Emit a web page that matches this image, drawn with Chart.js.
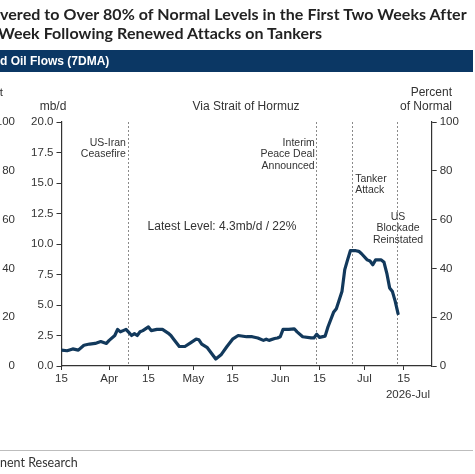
<!DOCTYPE html>
<html>
<head>
<meta charset="utf-8">
<script src="https://cdn.jsdelivr.net/npm/chart.js@4.4.1/dist/chart.umd.min.js"></script>
<style>
  html, body { margin: 0; padding: 0; background: #fff; }
  #page { position: relative; width: 475px; height: 474px; overflow: hidden; }
  #chart { position: absolute; left: 0; top: 0; }
  .title {
    position: absolute; left: 0; white-space: nowrap;
    font-family: Lato, 'Open Sans', sans-serif; font-weight: 700;
    font-size: 16px; color: #222; letter-spacing: 0.06px;
  }
  #band {
    position: absolute; left: 0; top: 50px; width: 473px; height: 22px;
    background: #0b3764; color: #fff; white-space: nowrap;
    font-family: 'Liberation Sans', Arial, sans-serif; font-weight: 700;
    font-size: 12px; line-height: 23px;
  }
  #rule { position: absolute; left: 0; top: 450px; width: 473px; height: 1px; background: #bdbdbd; }
  #source {
    position: absolute; left: 0; top: 455px; white-space: nowrap;
    font-family: Lato, 'Open Sans', sans-serif; font-size: 12.5px; color: #333;
  }
</style>
</head>
<body>
<div id="page">
  <canvas id="chart" width="475" height="474"></canvas>
  <div class="title" style="top:4px">vered to Over 80% of Normal Levels in the First Two Weeks After</div>
  <div class="title" style="top:23px;left:-2px">Week Following Renewed Attacks on Tankers</div>
  <div id="band">d Oil Flows (7DMA)</div>
  <div id="rule"></div>
  <div id="source">nent Research</div>
</div>
<script>
// ---------------------------------------------------------------------------
// DATA (oil flows via Strait of Hormuz, 7-day moving average, 2026)
// ---------------------------------------------------------------------------
const START_DATE = '03-15';
const END_DATE = '07-25';

const FLOW_DATES = [
  '03-15', '03-17', '03-19', '03-21', '03-23', '03-25', '03-27', '03-29', '03-31',
  '04-01', '04-03', '04-04', '04-05', '04-06', '04-07', '04-08', '04-09', '04-10',
  '04-11', '04-12', '04-13', '04-15', '04-16', '04-18', '04-20', '04-22', '04-23',
  '04-24', '04-26', '04-28', '04-30', '05-02', '05-03', '05-04', '05-06', '05-09',
  '05-11', '05-13', '05-15', '05-17', '05-20', '05-22', '05-24', '05-26', '05-27',
  '05-28', '05-30', '05-31', '06-01', '06-02', '06-04', '06-06', '06-07', '06-09',
  '06-12', '06-13', '06-14', '06-15', '06-17', '06-18', '06-20', '06-21', '06-23',
  '06-24', '06-25', '06-26', '06-28', '06-29', '06-30', '07-02', '07-03', '07-04',
  '07-05', '07-07', '07-08', '07-09', '07-10', '07-11', '07-12', '07-13'
];
const FLOWS_MBD = [
  1.3, 1.25, 1.4, 1.3, 1.7, 1.8, 1.85, 2.0, 1.85,
  2.1, 2.5, 3.0, 2.8, 2.9, 3.0, 2.75, 2.5, 2.65,
  2.5, 2.8, 2.9, 3.2, 2.9, 3.0, 3.0, 2.7, 2.5,
  2.2, 1.6, 1.6, 1.9, 2.2, 2.15, 1.8, 1.5, 0.57,
  0.95, 1.6, 2.2, 2.5, 2.4, 2.4, 2.3, 2.1, 2.2,
  2.1, 2.25, 2.3, 2.4, 3.0, 3.0, 3.05, 2.8, 2.4,
  2.3, 2.3, 2.6, 2.35, 2.45, 3.2, 4.4, 4.7, 6.1,
  7.9, 8.7, 9.45, 9.45, 9.4, 9.2, 8.7, 8.6, 8.3,
  8.7, 8.7, 8.5, 7.6, 6.4, 6.1, 5.3, 4.3
];

const TICK_DATES = ['03-15', '04-01', '04-15', '05-01', '05-15', '06-01', '06-15', '07-01', '07-15'];
const TICK_LABELS = ['15', 'Apr', '15', 'May', '15', 'Jun', '15', 'Jul', '15'];

const EVENT_DATES = ['04-08', '06-14', '06-27', '07-13'];
const EVENT_LABELS = [
  ['US-Iran', 'Ceasefire'],
  ['Interim', 'Peace Deal', 'Announced'],
  ['Tanker', 'Attack'],
  ['US', 'Blockade', 'Reinstated']
];

const LATEST_LABEL = 'Latest Level: 4.3mb/d / 22%';

// ---------------------------------------------------------------------------
// HELPERS
// ---------------------------------------------------------------------------
const FONT = "'Liberation Sans', Arial, sans-serif";
const TEXT = '#333';

function dayIndex(mmdd) {
  const [m, d] = mmdd.split('-').map(Number);
  const [m0, d0] = START_DATE.split('-').map(Number);
  return (Date.UTC(2026, m - 1, d) - Date.UTC(2026, m0 - 1, d0)) / 86400000;
}

const flowPoints = FLOW_DATES.map((d, i) => ({ x: dayIndex(d), y: FLOWS_MBD[i] }));
const tickDays = TICK_DATES.map(dayIndex);

// where each event caption sits relative to its line (style only)
const EVENT_STYLE = [
  { align: 'right', dx: -3, y: 143 },
  { align: 'right', dx: -2, y: 143 },
  { align: 'left', dx: 2, y: 179 },
  { align: 'center', dx: 0, y: 217 }
];

// ---------------------------------------------------------------------------
// PLUGIN: event lines + free text
// ---------------------------------------------------------------------------
const annotations = {
  id: 'annotations',
  beforeDatasetsDraw(chart) {
    const { ctx, chartArea, scales } = chart;
    ctx.save();
    ctx.strokeStyle = '#8a8a8a';
    ctx.lineWidth = 1;
    ctx.setLineDash([2, 2]);
    EVENT_DATES.forEach(d => {
      const x = Math.round(scales.x.getPixelForValue(dayIndex(d))) - 0.5;
      ctx.beginPath();
      ctx.moveTo(x, chartArea.top);
      ctx.lineTo(x, chartArea.bottom);
      ctx.stroke();
    });
    ctx.restore();
  },
  afterDraw(chart) {
    const { ctx, scales } = chart;
    ctx.save();
    ctx.fillStyle = TEXT;
    ctx.textBaseline = 'middle';

    // event captions
    ctx.font = `10.5px ${FONT}`;
    EVENT_DATES.forEach((d, i) => {
      const st = EVENT_STYLE[i];
      const x = scales.x.getPixelForValue(dayIndex(d)) + st.dx;
      ctx.textAlign = st.align;
      EVENT_LABELS[i].forEach((line, j) => ctx.fillText(line, x, st.y + j * 11.5));
    });

    // headers
    ctx.font = `12px ${FONT}`;
    ctx.textAlign = 'center';
    ctx.fillText('mb/d', 53, 107);
    ctx.fillText('Via Strait of Hormuz', 246, 107);
    ctx.fillText(LATEST_LABEL, 222, 227);
    ctx.textAlign = 'right';
    ctx.fillText('Percent', 452, 93);
    ctx.fillText('of Normal', 452, 107);
    ctx.font = `11.5px ${FONT}`;
    ctx.fillText('2026-Jul', 430, 395);

    // neighbouring panel's axis, cut off at the left edge
    ctx.fillText('Percent', 3, 93);
    [100, 80, 60, 40, 20, 0].forEach(v => {
      ctx.fillText(String(v), 15, scales.yPct.getPixelForValue(v));
    });
    ctx.restore();
  }
};

// ---------------------------------------------------------------------------
// CHART
// ---------------------------------------------------------------------------
const tickFont = { family: FONT, size: 11.5 };

new Chart(document.getElementById('chart').getContext('2d'), {
  type: 'line',
  data: {
    datasets: [{
      label: 'Via Strait of Hormuz',
      data: flowPoints,
      borderColor: '#12395c',
      borderWidth: 3.2,
      borderJoinStyle: 'round',
      borderCapStyle: 'round',
      pointRadius: 0,
      tension: 0,
      yAxisID: 'y'
    }]
  },
  options: {
    responsive: false,
    animation: false,
    devicePixelRatio: 1,
    layout: { padding: { top: 122, left: 0, right: 0, bottom: 0 } },
    plugins: { legend: { display: false }, tooltip: { enabled: false } },
    scales: {
      x: {
        type: 'linear',
        min: 0,
        max: dayIndex(END_DATE),
        afterBuildTicks(scale) { scale.ticks = tickDays.map(v => ({ value: v })); },
        afterFit(scale) { scale.height = 108; },
        grid: { drawOnChartArea: false, drawTicks: true, tickLength: 4, tickColor: '#333' },
        border: { display: true, color: '#333', width: 1.2 },
        ticks: {
          autoSkip: false, maxRotation: 0, padding: 2, color: TEXT, font: tickFont,
          callback: v => TICK_LABELS[tickDays.indexOf(v)] ?? ''
        }
      },
      y: {
        position: 'left',
        min: 0, max: 20,
        afterFit(scale) { scale.width = 61.5; },
        grid: { drawOnChartArea: false, drawTicks: true, tickLength: 5, tickColor: '#333' },
        border: { display: true, color: '#333', width: 1.2 },
        ticks: { stepSize: 2.5, padding: 3, color: TEXT, font: tickFont, callback: v => v.toFixed(1) }
      },
      yPct: {
        position: 'right',
        min: 0, max: 100,
        afterFit(scale) { scale.width = 43.3; },
        grid: { drawOnChartArea: false, drawTicks: true, tickLength: 5, tickColor: '#333' },
        border: { display: true, color: '#333', width: 1.2 },
        ticks: { stepSize: 20, padding: 3, color: TEXT, font: tickFont }
      }
    }
  },
  plugins: [annotations]
});
</script>
</body>
</html>
